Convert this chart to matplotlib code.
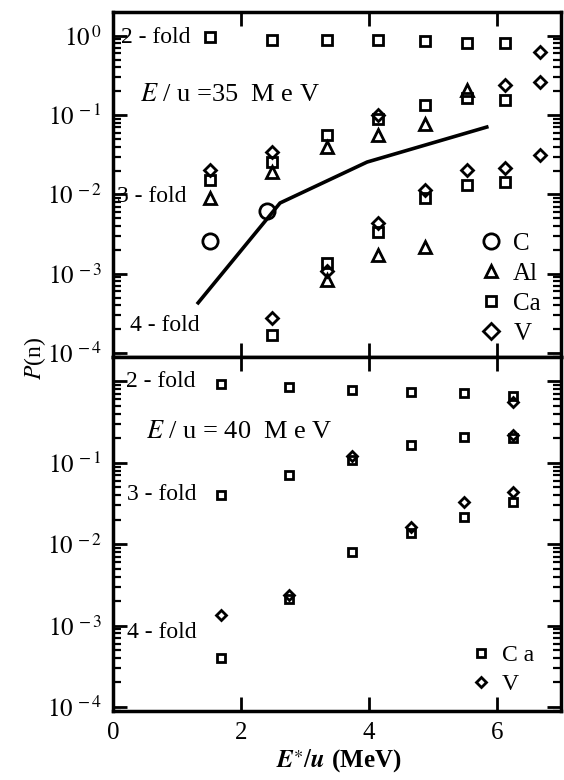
import numpy as np
import matplotlib
matplotlib.use("Agg")
import matplotlib.pyplot as plt
from matplotlib.lines import Line2D
from matplotlib.ticker import LogLocator, NullFormatter

plt.rcParams["font.family"] = ["Liberation Serif", "DejaVu Serif"]
plt.rcParams["mathtext.fontset"] = "stix"

nan = np.nan

# ---- E/u = 35 MeV (upper panel) ----
x35 = [1.52, 2.48, 3.34, 4.14, 4.88, 5.53, 6.13, 6.67]
ca35_2fold = [0.97, 0.885, 0.885, 0.885, 0.86, 0.81, 0.81, nan]
ca35_3fold = [0.0152, 0.0256, 0.0561, 0.0893, 0.134, 0.164, 0.155, nan]
ca35_4fold = [nan, 1.7e-4, 1.36e-3, 3.36e-3, 9.0e-3, 0.0131, 0.0143, nan]
al35_3fold = [0.009, 0.0192, 0.0396, 0.0561, 0.0773, 0.207, nan, nan]
al35_4fold = [nan, nan, 8.3e-4, 1.72e-3, 2.17e-3, nan, nan, nan]
v35_2fold = [nan, nan, nan, nan, nan, nan, nan, 0.625]
v35_3fold = [0.0203, 0.0343, nan, 0.100, nan, nan, 0.24, 0.261]
v35_4fold = [nan, 2.8e-4, 1.08e-3, 4.36e-3, 0.0114, 0.0203, 0.0215, 0.0314]
c35_x = [1.52, 2.41]
c35_p = [2.57e-3, 6.2e-3]
calc_x = [1.33, 2.61, 3.97, 5.84]
calc_p = [4.3e-4, 7.8e-3, 0.0256, 0.0707]

# ---- E/u = 40 MeV (lower panel) ----
x40 = [1.68, 2.75, 3.73, 4.65, 5.48, 6.25]
ca40_2fold = [0.93, 0.853, 0.784, 0.74, 0.72, 0.66]
ca40_3fold = [0.0403, 0.0708, 0.108, 0.166, 0.207, 0.20]
ca40_4fold = [4.0e-4, 2.1e-3, 8.0e-3, 0.0138, 0.0216, 0.033]
v40_2fold = [nan, nan, nan, nan, nan, 0.56]
v40_3fold = [nan, nan, 0.121, nan, nan, 0.22]
v40_4fold = [1.35e-3, 2.4e-3, nan, 0.0163, 0.033, 0.0438]

fig = plt.figure(figsize=(5.64, 7.8), dpi=100)
ax1 = fig.add_axes([0.2004, 0.5423, 0.7943, 0.4423])
ax2 = fig.add_axes([0.2004, 0.0885, 0.7943, 0.4538])


def pts(ax, x, y, marker, ms, label=None):
    ax.plot(x, y, ls="none", marker=marker, ms=ms, mfc="none",
            mec="black", mew=2.0, label=label)


# upper panel
ax1.plot(calc_x, calc_p, color="black", lw=2.6)
pts(ax1, c35_x, c35_p, "o", 11, "C")
for vals in (al35_3fold, al35_4fold):
    pts(ax1, x35, vals, "^", 8)
for vals in (ca35_2fold, ca35_3fold, ca35_4fold):
    pts(ax1, x35, vals, "s", 7)
for vals in (v35_2fold, v35_3fold, v35_4fold):
    pts(ax1, x35, vals, "D", 6.5)

# lower panel
for vals in (ca40_2fold, ca40_3fold, ca40_4fold):
    pts(ax2, x40, vals, "s", 6)
for vals in (v40_2fold, v40_3fold, v40_4fold):
    pts(ax2, x40, vals, "D", 5)

for ax in (ax1, ax2):
    ax.set_yscale("log")
    ax.set_xlim(0, 7)
    ax.set_ylim(10 ** -4.05, 10 ** 0.3)
    ax.yaxis.set_minor_locator(LogLocator(base=10, subs=np.arange(2, 10)))
    ax.yaxis.set_minor_formatter(NullFormatter())
    ax.tick_params(which="both", direction="in", top=True, right=True)
    ax.tick_params(which="major", length=10, width=2, labelsize=18, pad=8)
    ax.tick_params(which="minor", length=6, width=1.6)
    for s in ax.spines.values():
        s.set_linewidth(2.5)

ax1.set_xticks([2, 4, 6])
ax1.tick_params(axis="x", labelbottom=False)
ax1.set_yticks([1e-4, 1e-3, 1e-2, 1e-1, 1e0],
               [r"$10^{\,-4}$", r"$10^{\,-3}$", r"$10^{\,-2}$", r"$10^{\,-1}$", r"$10^{\,0}$"])
ax2.set_xticks([0, 2, 4, 6], ["0", "2", "4", "6"])
ax2.set_yticks([1e-4, 1e-3, 1e-2, 1e-1, 1e0],
               [r"$10^{\,-4}$", r"$10^{\,-3}$", r"$10^{\,-2}$", r"$10^{\,-1}$", ""])

# labels inside panels
tfs = 17
ax1.text(0.12, 0.95, "2 - fold", fontsize=tfs, va="center")
ax1.text(0.06, 0.0095, "3 - fold", fontsize=tfs, va="center")
ax1.text(0.27, 2.2e-4, "4 - fold", fontsize=tfs, va="center")
ax1.text(0.42, 0.18, r"$E$ / u =35  M e V", fontsize=19, va="center")
ax2.text(0.2, 1.0, "2 - fold", fontsize=tfs, va="center")
ax2.text(0.22, 0.041, "3 - fold", fontsize=tfs, va="center")
ax2.text(0.22, 8.1e-4, "4 - fold", fontsize=tfs, va="center")
ax2.text(0.52, 0.24, r"$E$ / u = 40  M e V", fontsize=19, va="center")

h1 = [Line2D([], [], ls="none", marker="o", ms=11, mfc="none", mec="black", mew=2),
      Line2D([], [], ls="none", marker="^", ms=8, mfc="none", mec="black", mew=2),
      Line2D([], [], ls="none", marker="s", ms=7, mfc="none", mec="black", mew=2),
      Line2D([], [], ls="none", marker="D", ms=8, mfc="none", mec="black", mew=2)]
ax1.legend(h1, ["C", "Al", "Ca", "V"], loc="lower right", bbox_to_anchor=(0.955, 0.035),
           frameon=False, fontsize=18, handlelength=1.0, handletextpad=0.4,
           labelspacing=0.3, borderpad=0, borderaxespad=0)
h2 = [Line2D([], [], ls="none", marker="s", ms=6, mfc="none", mec="black", mew=2),
      Line2D([], [], ls="none", marker="D", ms=5, mfc="none", mec="black", mew=2)]
ax2.legend(h2, ["C a", "V"], loc="lower right", bbox_to_anchor=(0.94, 0.045),
           frameon=False, fontsize=17, handlelength=1.0, handletextpad=0.4,
           labelspacing=0.3, borderpad=0, borderaxespad=0)

fig.text(0.062, 0.54, r"$P$(n)", rotation=90, fontsize=17, ha="center", va="center")
fig.text(0.6, 0.025, r"$\mathbfit{E}^{\ast}/\mathbfit{u}$ (MeV)", fontsize=18,
         fontweight="bold", ha="center", va="center")

fig.savefig("out.png", dpi=100)
